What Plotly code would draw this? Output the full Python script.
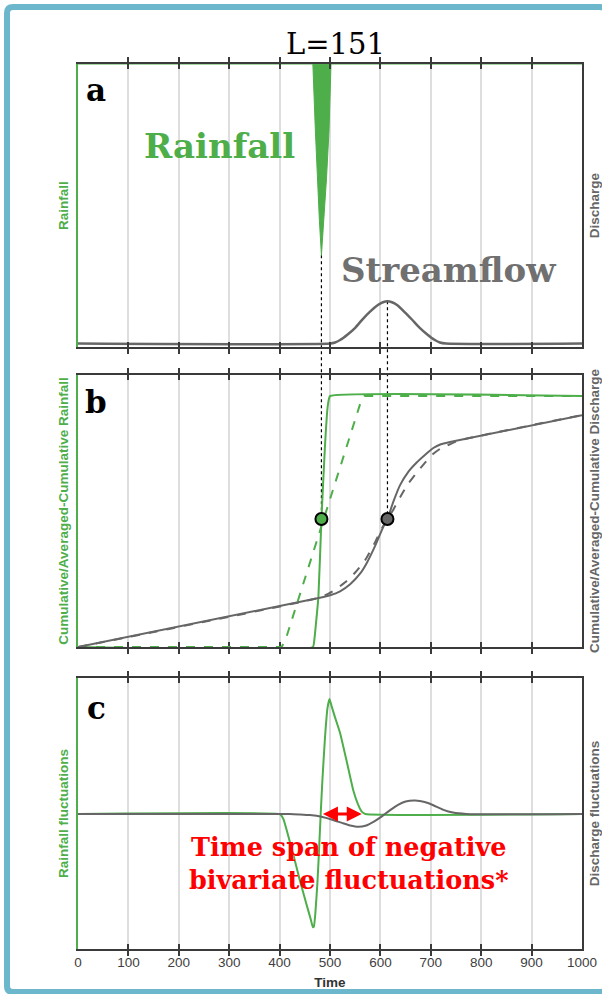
import plotly.graph_objects as go

# ---------------- data ----------------
time_ticks = [0, 100, 200, 300, 400, 500, 600, 700, 800, 900, 1000]
tick_labels = [str(v) for v in time_ticks]
window_length = 151

# panel a: rainfall pulse (drawn hanging from the top) and streamflow hydrograph
rain_t = [0, 466, 471, 475, 479, 483, 488, 493, 498, 502, 1000]
rain_v = [0, 0, 0.35, 0.6, 0.82, 1.0, 0.82, 0.6, 0.35, 0, 0]

flow_t = [0, 500, 510, 520, 535, 550, 565, 580, 595, 605, 614, 623, 633,
          648, 663, 678, 693, 708, 718, 730, 1000]
flow_v = [0.1, 0.1, 0.13, 0.2, 0.36, 0.55, 0.8, 1.02, 1.2, 1.28, 1.31, 1.28,
          1.2, 1.0, 0.78, 0.55, 0.36, 0.2, 0.13, 0.1, 0.1]

# panel b: cumulative and averaged-cumulative series
cum_rain_t = [0, 466, 469, 472, 477, 483, 490, 494, 497, 500, 1000]
cum_rain_v = [0, 0, 0.03, 0.09, 0.2, 0.51, 0.8, 0.93, 0.98, 1.0, 1.0]

avg_cum_rain_t = [0, 404, 412, 560, 568, 1000]
avg_cum_rain_v = [0, 0, 0.03, 0.97, 1.0, 1.0]

cum_flow_t = [0, 480, 500, 520, 540, 560, 573, 590, 606, 614, 625, 639, 655,
              672, 690, 705, 720, 738, 1000]
cum_flow_v = [0, 0.196, 0.206, 0.222, 0.25, 0.293, 0.335, 0.405, 0.48, 0.51,
              0.575, 0.645, 0.697, 0.735, 0.768, 0.793, 0.808, 0.817, 0.924]

avg_cum_flow_t = [0, 470, 490, 510, 530, 550, 570, 590, 605, 614, 625, 640,
                  655, 672, 690, 705, 720, 738, 755, 1000]
avg_cum_flow_v = [0, 0.192, 0.206, 0.228, 0.258, 0.297, 0.347, 0.42, 0.48,
                  0.51, 0.545, 0.6, 0.65, 0.695, 0.738, 0.77, 0.792, 0.808,
                  0.822, 0.924]

# centroid markers (half of the cumulative response)
rain_mark = (483, 0.51)
flow_mark = (614, 0.51)

# panel c: fluctuations (cumulative minus averaged-cumulative)
rain_fluct_t = [0, 400, 404, 408, 414, 427, 440, 453, 462, 466, 468, 471,
                475, 478, 481.5, 485, 490, 495, 499, 503, 510, 520, 533, 546,
                555, 563, 570, 1000]
rain_fluct_v = [0, 0, -0.008, -0.025, -0.07, -0.175, -0.287, -0.39, -0.46,
                -0.492, -0.49, -0.43, -0.3, -0.17, 0, 0.15, 0.33, 0.46, 0.5,
                0.47, 0.42, 0.352, 0.23, 0.104, 0.045, 0.01, 0, 0]

flow_fluct_t = [0, 420, 440, 460, 483, 506, 525, 540, 556, 572, 588, 600,
                609, 620, 635, 650, 669, 688, 705, 725, 744, 770, 1000]
flow_fluct_v = [0, 0, -0.002, -0.005, -0.012, -0.026, -0.04, -0.05, -0.056,
                -0.05, -0.032, -0.015, 0, 0.018, 0.04, 0.054, 0.058, 0.052,
                0.038, 0.018, 0.006, 0, 0]

neg_span = [483, 563]

# ---------------- styling ----------------
GREEN = "#4dae4a"
GRAY = "#666666"
AXIS = "#3a3a3a"
GRID = "#dedede"
BORDER = "#6db7cd"
SANS = "Liberation Sans, Arial, sans-serif"
SERIF = "DejaVu Serif, serif"

W, H = 602, 994
ML, MR, MT, MB = 78, 20, 64, 45
PW, PH = W - ML - MR, H - MT - MB


def px_x(px):
    return (px - ML) / PW


def px_y(py):
    return (H - MB - py) / PH


dom_a = [px_y(347), px_y(64)]
dom_b = [px_y(647), px_y(375)]
dom_c = [px_y(949), px_y(678)]

rng_rain = [1.48, 0]
rng_flow = [0, 8.1]
rng_cum = [0, 1.084]
rng_fl = [-0.587, 0.591]


def to_paper(v, rng, dom):
    return dom[0] + (v - rng[0]) / (rng[1] - rng[0]) * (dom[1] - dom[0])


fig = go.Figure()

# panel a
fig.add_trace(go.Scatter(x=rain_t, y=rain_v, xaxis="x", yaxis="y", mode="lines",
                         line=dict(color=GREEN, width=1), fill="tozeroy",
                         fillcolor=GREEN, hoverinfo="skip"))
fig.add_trace(go.Scatter(x=flow_t, y=flow_v, xaxis="x", yaxis="y2", mode="lines",
                         line=dict(color=GRAY, width=2.5, shape="spline",
                                   smoothing=0.6), hoverinfo="skip"))

# panel b
fig.add_trace(go.Scatter(x=avg_cum_rain_t, y=avg_cum_rain_v, xaxis="x2", yaxis="y3",
                         mode="lines", line=dict(color=GREEN, width=2, dash="dash")))
fig.add_trace(go.Scatter(x=cum_rain_t, y=cum_rain_v, xaxis="x2", yaxis="y3",
                         mode="lines", line=dict(color=GREEN, width=2,
                                                 shape="spline", smoothing=0.4)))
fig.add_trace(go.Scatter(x=avg_cum_flow_t, y=avg_cum_flow_v, xaxis="x2", yaxis="y4",
                         mode="lines", line=dict(color=GRAY, width=2, dash="dash",
                                                 shape="spline", smoothing=0.6)))
fig.add_trace(go.Scatter(x=cum_flow_t, y=cum_flow_v, xaxis="x2", yaxis="y4",
                         mode="lines", line=dict(color=GRAY, width=2,
                                                 shape="spline", smoothing=0.6)))
fig.add_trace(go.Scatter(x=[rain_mark[0]], y=[rain_mark[1]], xaxis="x2", yaxis="y3",
                         mode="markers",
                         marker=dict(size=12, color=GREEN,
                                     line=dict(color="black", width=2))))
fig.add_trace(go.Scatter(x=[flow_mark[0]], y=[flow_mark[1]], xaxis="x2", yaxis="y4",
                         mode="markers",
                         marker=dict(size=12, color=GRAY,
                                     line=dict(color="black", width=2))))

# panel c (discharge drawn last so it sits on top along the zero line)
fig.add_trace(go.Scatter(x=rain_fluct_t, y=rain_fluct_v, xaxis="x3", yaxis="y5",
                         mode="lines", line=dict(color=GREEN, width=2,
                                                 shape="spline", smoothing=0.4)))
fig.add_trace(go.Scatter(x=flow_fluct_t, y=flow_fluct_v, xaxis="x3", yaxis="y6",
                         mode="lines", line=dict(color=GRAY, width=2,
                                                 shape="spline", smoothing=0.6)))


def xaxis(anchor, labels=False, title=None):
    ax = dict(domain=[0, 1], anchor=anchor, range=[0, 1000], automargin=False,
              tickvals=time_ticks, ticktext=tick_labels,
              showticklabels=labels, ticks="inside", ticklen=5,
              tickwidth=1.5, tickcolor=AXIS, showline=True, linecolor=AXIS,
              linewidth=2, mirror="allticks", showgrid=True, gridcolor=GRID,
              gridwidth=1.5, zeroline=False,
              tickfont=dict(family=SANS, size=13.5, color="#404040"))
    if title:
        ax["title"] = dict(text=title, standoff=8,
                           font=dict(family=SANS, size=13.5, color="#333333"))
    return ax


def yleft(dom, rng, title, anchor):
    return dict(domain=dom, range=rng, anchor=anchor, showline=True,
                automargin=False,
                linecolor=GREEN, linewidth=2, showticklabels=False, ticks="",
                showgrid=False, zeroline=False,
                title=dict(text=title, standoff=4,
                           font=dict(family=SANS, size=13.5, color=GREEN)))


def yright(dom, rng, title, anchor, over):
    return dict(domain=dom, range=rng, anchor=anchor, overlaying=over,
                automargin=False,
                side="right", showline=True, linecolor=AXIS, linewidth=2,
                showticklabels=False, ticks="", showgrid=False, zeroline=False,
                title=dict(text=title, standoff=7,
                           font=dict(family=SANS, size=13.5, color=GRAY)))


layout = dict(
    width=W, height=H,
    margin=dict(l=ML, r=MR, t=MT, b=MB, autoexpand=False),
    paper_bgcolor="white", plot_bgcolor="rgba(0,0,0,0)",
    showlegend=False,
    xaxis=xaxis("y"),
    xaxis2=xaxis("y3"),
    xaxis3=xaxis("y5", labels=True, title="<b>Time</b>"),
    yaxis=yleft(dom_a, rng_rain, "<b>Rainfall</b>", "x"),
    yaxis2=yright(dom_a, rng_flow, "<b>Discharge</b>", "x", "y"),
    yaxis3=yleft(dom_b, rng_cum, "<b>Cumulative/Averaged-Cumulative Rainfall</b>", "x2"),
    yaxis4=yright(dom_b, rng_cum, "<b>Cumulative/Averaged-Cumulative Discharge</b>", "x2", "y3"),
    yaxis5=yleft(dom_c, rng_fl, "<b>Rainfall fluctuations</b>", "x3"),
    yaxis6=yright(dom_c, rng_fl, "<b>Discharge fluctuations</b>", "x3", "y5"),
)
fig.update_layout(**layout)
fig.update_xaxes(layer="below traces", selector=dict(anchor="y3"))

# dotted connectors from the rainfall peak / streamflow peak down to the centroids
rain_peak = max(rain_v)
flow_peak = max(flow_v)
rain_peak_t = rain_t[rain_v.index(rain_peak)]
flow_peak_t = flow_t[flow_v.index(flow_peak)]
shapes = [
    dict(type="line", xref="x", yref="paper", layer="below",
         x0=rain_peak_t, x1=rain_mark[0],
         y0=to_paper(rain_peak, rng_rain, dom_a),
         y1=to_paper(rain_mark[1], rng_cum, dom_b),
         line=dict(color="black", width=1.2, dash="dot")),
    dict(type="line", xref="x", yref="paper", layer="below",
         x0=flow_peak_t, x1=flow_mark[0],
         y0=to_paper(flow_peak, rng_flow, dom_a),
         y1=to_paper(flow_mark[1], rng_cum, dom_b),
         line=dict(color="black", width=1.2, dash="dot")),
]

# outer rounded frame
x0, x1 = px_x(7), px_x(606)
y0, y1 = px_y(992), px_y(7)
rx, ry = 6 / PW, 6 / PH
frame_path = (f"M {x0 + rx} {y1} L {x1 - rx} {y1} Q {x1} {y1} {x1} {y1 - ry} "
              f"L {x1} {y0 + ry} Q {x1} {y0} {x1 - rx} {y0} "
              f"L {x0 + rx} {y0} Q {x0} {y0} {x0} {y0 + ry} "
              f"L {x0} {y1 - ry} Q {x0} {y1} {x0 + rx} {y1} Z")
shapes.append(dict(type="path", xref="paper", yref="paper", path=frame_path,
                   line=dict(color=BORDER, width=6), layer="above"))
fig.update_layout(shapes=shapes)

annotations = [
    dict(text=f"L={window_length}", x=px_x(335), y=px_y(44),
         font=dict(family=SERIF, size=29, color="black")),
    dict(text="<b>a</b>", x=px_x(96), y=px_y(90),
         font=dict(family=SERIF, size=31, color="black")),
    dict(text="<b>b</b>", x=px_x(96), y=px_y(402),
         font=dict(family=SERIF, size=31, color="black")),
    dict(text="<b>c</b>", x=px_x(96), y=px_y(708),
         font=dict(family=SERIF, size=31, color="black")),
    dict(text="<b>Rainfall</b>", x=px_x(219), y=px_y(146),
         font=dict(family=SERIF, size=34, color=GREEN)),
    dict(text="<b>Streamflow</b>", x=px_x(448), y=px_y(270),
         font=dict(family=SERIF, size=34, color="#707070")),
    dict(text="<b>Time span of negative<br>bivariate fluctuations*</b>",
         x=px_x(349), y=px_y(863),
         font=dict(family=SERIF, size=25.5, color="red")),
]
for a in annotations:
    a.update(xref="paper", yref="paper", showarrow=False,
             xanchor="center", yanchor="middle")

annotations.append(dict(
    x=neg_span[1], y=0, ax=neg_span[0], ay=0,
    xref="x3", yref="y5", axref="x3", ayref="y5",
    text="", showarrow=True, arrowside="end+start",
    arrowhead=2, startarrowhead=2, arrowsize=1, startarrowsize=1,
    arrowwidth=3, arrowcolor="red", standoff=0, startstandoff=0))
fig.update_layout(annotations=annotations)

fig.write_html("out.html")
